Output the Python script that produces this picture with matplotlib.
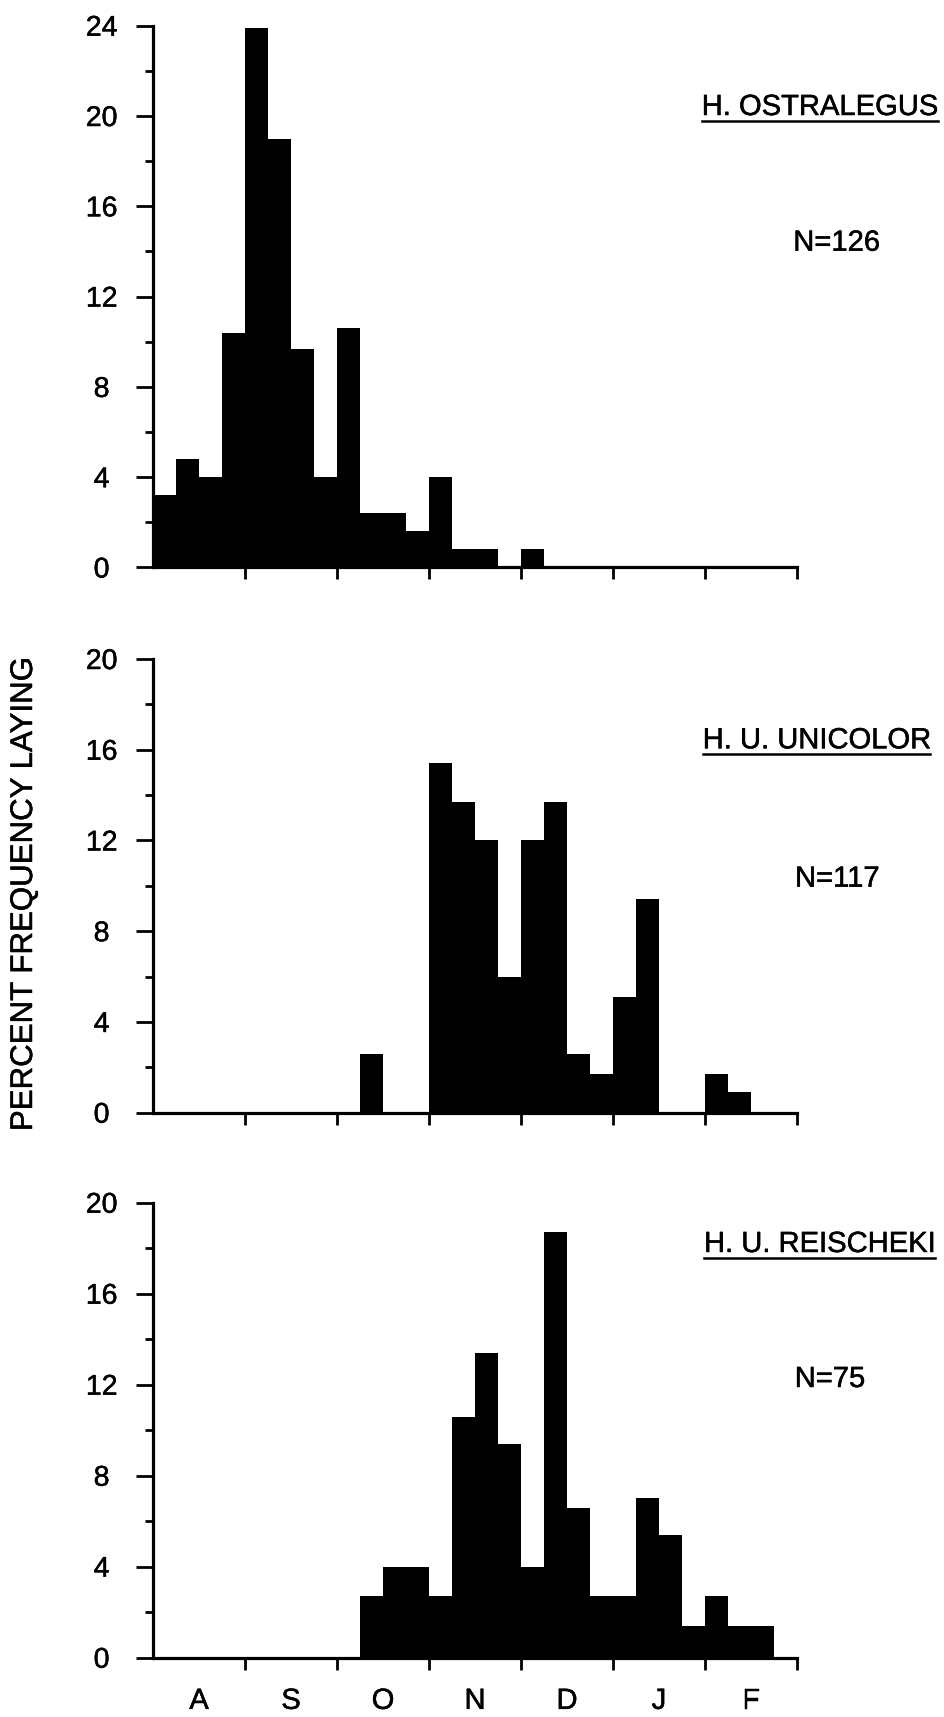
import matplotlib
matplotlib.use("Agg")
import matplotlib.pyplot as plt
import matplotlib.patheffects as pe
from matplotlib.lines import Line2D
import numpy as np

plt.rcParams["font.family"] = ["Liberation Sans", "DejaVu Sans"]

# Months of the laying season; each month is split into four weekly bins
months = ["A", "S", "O", "N", "D", "J", "F"]
BINS_PER_MONTH = 4

# Percent of clutches laid in each weekly bin (Aug week 1 ... Feb week 4)
ostralegus = [3.2, 4.8, 4.0, 10.4, 23.9, 19.0, 9.7, 4.0,
              10.6, 2.4, 2.4, 1.6, 4.0, 0.8, 0.8, 0.0,
              0.8, 0.0, 0.0, 0.0, 0.0, 0.0, 0.0, 0.0,
              0.0, 0.0, 0.0, 0.0]
unicolor = [0.0, 0.0, 0.0, 0.0, 0.0, 0.0, 0.0, 0.0,
            0.0, 2.6, 0.0, 0.0, 15.4, 13.7, 12.0, 6.0,
            12.0, 13.7, 2.6, 1.7, 5.1, 9.4, 0.0, 0.0,
            1.7, 0.9, 0.0, 0.0]
reischeki = [0.0, 0.0, 0.0, 0.0, 0.0, 0.0, 0.0, 0.0,
             0.0, 2.7, 4.0, 4.0, 2.7, 10.6, 13.4, 9.4,
             4.0, 18.7, 6.6, 2.7, 2.7, 7.0, 5.4, 1.4,
             2.7, 1.4, 1.4, 0.0]

series = [ostralegus, unicolor, reischeki]
titles = ["H. OSTRALEGUS", "H. U. UNICOLOR", "H. U. REISCHEKI"]
sample_sizes = [126, 117, 75]
y_limits = [24, 20, 20]

W, H = 945, 1717
fig = plt.figure(figsize=(W / 100, H / 100), dpi=100)

# slightly heavier lettering
heavy = [pe.withStroke(linewidth=0.35, foreground="black")]


def fx(x):
    return x / W


def fy(y):
    return 1 - y / H


# panel extents in pixels (top, bottom) and shared left/right edges
panel_rows = [(25.7, 567.5), (659.0, 1112.7), (1202.7, 1657.7)]
left_px, right_px = 153, 797
title_pos = [(701.7, 115.0), (702.7, 748.3), (704.0, 1252.0)]
n_pos = [(793.3, 250.7), (795.0, 886.7), (794.7, 1387.0)]

LW = 2.3
title_texts = []
for i, vals in enumerate(series):
    top, bot = panel_rows[i]
    ax = fig.add_axes([fx(left_px), fy(bot), (right_px - left_px) / W, (bot - top) / H])
    edges = np.arange(len(vals)) / BINS_PER_MONTH
    ax.bar(edges, vals, width=1 / BINS_PER_MONTH, align="edge",
           color="black", linewidth=0)
    ax.set_xlim(0, len(months))
    ax.set_ylim(0, y_limits[i])
    for side in ("top", "right"):
        ax.spines[side].set_visible(False)
    for side in ("left", "bottom"):
        ax.spines[side].set_linewidth(LW)
        ax.spines[side].set_capstyle("projecting")

    ax.set_xticks(np.arange(1, len(months) + 1))
    ax.set_xticklabels([])
    ax.tick_params(axis="x", which="major", direction="out", length=8.6,
                   width=2.0, labelbottom=False)
    if i == len(series) - 1:
        ax.set_xticks(np.arange(len(months)) + 0.5, minor=True)
        ax.set_xticklabels(months, minor=True, fontsize=21)
        ax.tick_params(axis="x", which="minor", length=0, pad=21)
        for lbl in ax.get_xticklabels(minor=True):
            lbl.set_path_effects(heavy)

    yt = np.arange(0, y_limits[i] + 1, 4)
    ax.set_yticks(yt)
    ax.set_yticklabels([str(v) for v in yt], ha="center", fontsize=20.5)
    for lbl in ax.get_yticklabels():
        lbl.set_path_effects(heavy)
    ax.set_yticks(np.arange(0, y_limits[i] + 1, 2), minor=True)
    ax.tick_params(axis="y", which="major", length=12.2, width=2.0, pad=24.8)
    ax.tick_params(axis="y", which="minor", length=5.8, width=2.0)

    tx, ty = title_pos[i]
    t = fig.text(fx(tx), fy(ty), titles[i], fontsize=21, ha="left",
                 va="baseline", path_effects=heavy)
    title_texts.append((t, ty))
    nx, ny = n_pos[i]
    fig.text(fx(nx), fy(ny), f"N={sample_sizes[i]}", fontsize=21,
             ha="left", va="baseline", path_effects=heavy)

fig.text(fx(24), fy(894), "PERCENT FREQUENCY LAYING", rotation=90,
         fontsize=22.5, ha="center", va="center", path_effects=heavy)

# underline the species names
fig.canvas.draw()
renderer = fig.canvas.get_renderer()
for t, ty in title_texts:
    bb = t.get_window_extent(renderer)
    yline = fy(ty + 6)
    fig.add_artist(Line2D([bb.x0 / W, bb.x1 / W], [yline, yline],
                          transform=fig.transFigure, color="black", lw=1.8))

fig.savefig("out.png", dpi=100)
